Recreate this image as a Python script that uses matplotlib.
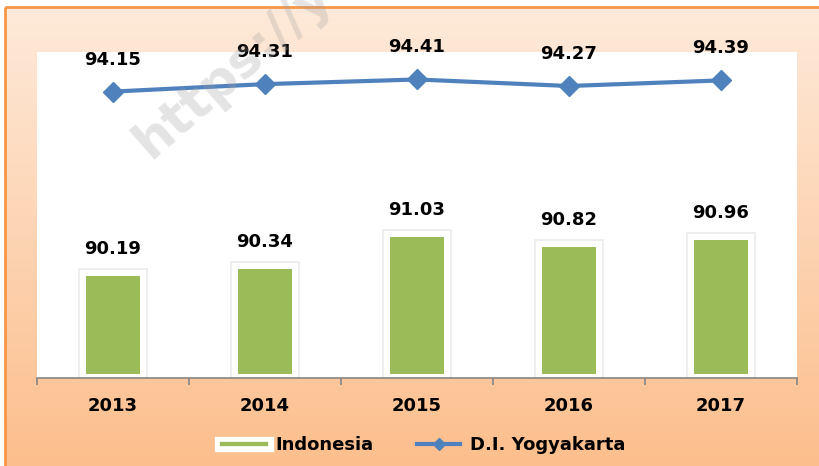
import numpy as np
import matplotlib
matplotlib.use('Agg')
import matplotlib.pyplot as plt
from matplotlib.lines import Line2D
import matplotlib.patheffects as pe

years = ['2013', '2014', '2015', '2016', '2017']
indonesia = [90.19, 90.34, 91.03, 90.82, 90.96]
yogya = [94.15, 94.31, 94.41, 94.27, 94.39]

W, H = 820, 466
fig = plt.figure(figsize=(W/100, H/100), dpi=100)
fig.patch.set_facecolor('white')

# background gradient frame
bg = fig.add_axes([0, 0, 1, 1])
bg.set_xlim(0, W)
bg.set_ylim(H, 0)
bg.axis('off')
top = np.array([254, 234, 218]) / 255
bot = np.array([252, 190, 140]) / 255
t = np.linspace(0, 1, 256)[:, None, None]
grad = top * (1 - t) + bot * t
grad = np.repeat(grad, 2, axis=1)
bg.imshow(grad, extent=[5, W + 2, H + 2, 7], aspect='auto', zorder=0)
bg.plot([5, W + 2], [7, 7], color='#F79646', lw=2, zorder=1, solid_capstyle='butt')
bg.plot([5, 5], [7, H + 2], color='#F79646', lw=2, zorder=1, solid_capstyle='butt')

ax = fig.add_axes([37/W, (H - 378)/H, 760/W, 326/H])
ax.set_facecolor('white')
x = np.arange(len(years))

# bars with white glow
ax.bar(x, [v + 0.15 - 88 for v in indonesia], width=0.45, bottom=88, color='white',
       edgecolor='#ebebeb', linewidth=1.2, zorder=2)
ax.bar(x, [v - 88.09 for v in indonesia], width=0.35, bottom=88.09, color='#9BBB59', zorder=3)

ax.plot(x, yogya, color='#4F81BD', lw=3, marker='D', markersize=10, zorder=4)

for i in range(len(years)):
    ax.annotate(f'{indonesia[i]:.2f}', (x[i], indonesia[i]), xytext=(0, 27),
                textcoords='offset pixels', ha='center', va='center',
                fontsize=13, fontweight='bold')
    ax.annotate(f'{yogya[i]:.2f}', (x[i], yogya[i]), xytext=(0, 32),
                textcoords='offset pixels', ha='center', va='center',
                fontsize=13, fontweight='bold')

ax.set_xlim(-0.5, 4.5)
ax.set_ylim(88, 95)
ax.set_yticks([])
ax.set_xticks(x)
ax.set_xticklabels(years, fontsize=13, fontweight='bold')
ax.tick_params(axis='x', which='major', length=0, pad=14)
ax.set_xticks(np.arange(-0.5, 5, 1), minor=True)
ax.tick_params(axis='x', which='minor', length=5, width=1.2, color='#868686', direction='out')
for s in ['top', 'right', 'left']:
    ax.spines[s].set_visible(False)
ax.spines['bottom'].set_color('#868686')
ax.spines['bottom'].set_linewidth(1.2)

handles = [
    Line2D([0], [0], color='#9BBB59', lw=3,
           path_effects=[pe.withStroke(linewidth=11, foreground='white'), pe.Normal()]),
    Line2D([0], [0], color='#4F81BD', lw=3, marker='D', markersize=6),
]
fig.legend(handles, ['Indonesia', 'D.I. Yogyakarta'], loc='center', ncol=2,
           bbox_to_anchor=(424/W, 1 - 445/H), frameon=False, handlelength=2.4,
           handletextpad=0.55, columnspacing=2.4,
           prop={'weight': 'bold', 'size': 13})

# watermark
fig.text(150/W, 1 - 160/H, 'https://yogyakarta.bps.go.id', rotation=41,
         rotation_mode='anchor', ha='left', va='baseline', fontsize=37,
         fontweight='bold', color='#a0a0a0', alpha=0.28, zorder=10)

fig.savefig('out.png', dpi=100)
